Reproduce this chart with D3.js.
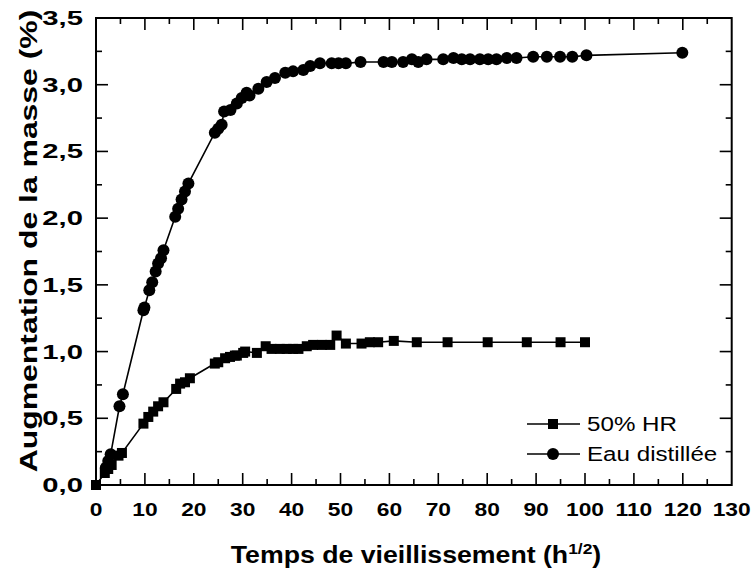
<!DOCTYPE html>
<html><head><meta charset="utf-8">
<script src="https://cdn.jsdelivr.net/npm/d3@7"></script>
<style>body{margin:0;background:#fff}svg{display:block}text{font-family:"Liberation Sans",Arial,sans-serif;fill:#000}</style>
</head><body>
<svg id="c" width="753" height="573"></svg>
<script>
const hrX = [0,1.8,2.5,3.2,4.6,5.3,9.7,10.7,11.7,12.7,13.8,16.4,17.2,18.2,19.2,24.3,25.0,26.4,27.4,28.4,28.8,30.1,30.5,32.9,34.7,35.9,37.6,39.0,40.3,41.4,43.1,44.4,46.2,47.9,49.2,51.1,54.3,56.0,57.7,60.9,65.6,71.9,80.1,88.1,95.0,100.0];
const hrY = [0,0.09,0.12,0.15,0.22,0.24,0.46,0.51,0.55,0.59,0.62,0.72,0.76,0.77,0.80,0.91,0.92,0.95,0.96,0.97,0.97,0.99,1.00,0.99,1.04,1.02,1.02,1.02,1.02,1.02,1.04,1.05,1.05,1.05,1.12,1.06,1.06,1.07,1.07,1.08,1.07,1.07,1.07,1.07,1.07,1.07];
const eauX = [2.0,2.5,3.0,4.8,5.5,9.7,9.9,10.9,11.5,12.2,12.7,13.3,13.8,16.2,16.8,17.5,18.2,18.9,24.3,25.0,25.7,26.2,27.5,28.8,29.8,30.8,31.4,33.2,34.9,36.6,38.7,40.3,42.4,43.8,45.8,48.2,49.6,51.1,54.1,58.8,60.5,62.8,64.6,65.9,67.6,71.0,73.1,74.8,76.5,78.5,80.2,81.9,84.0,86.0,89.4,92.2,94.9,97.4,100.3,119.9];
const eauY = [0.13,0.18,0.23,0.59,0.68,1.31,1.33,1.46,1.52,1.60,1.66,1.70,1.76,2.01,2.07,2.14,2.20,2.26,2.64,2.67,2.70,2.80,2.81,2.86,2.90,2.94,2.92,2.97,3.02,3.05,3.09,3.10,3.11,3.14,3.16,3.16,3.16,3.16,3.17,3.17,3.17,3.17,3.19,3.17,3.19,3.19,3.20,3.19,3.19,3.19,3.19,3.19,3.20,3.20,3.21,3.21,3.21,3.21,3.22,3.24];
const xTicks = [0,10,20,30,40,50,60,70,80,90,100,110,120,130];
const yTicks = [0,0.5,1.0,1.5,2.0,2.5,3.0,3.5];
const seriesNames = ["50% HR","Eau distillée"];
const xTitle = "Temps de vieillissement (h";
const xTitleSup = "1/2";
const yTitle = "Augmentation de la masse (%)";

const svg = d3.select("#c");
const L=96,R=731.7,T=18,B=485;
const x = d3.scaleLinear().domain([0,130]).range([L,R]);
const y = d3.scaleLinear().domain([0,3.5]).range([B,T]);
const fmt = d => d3.format(".1f")(d).replace(".",",");
const SX = 1.2;

// frame
svg.append("rect").attr("x",L).attr("y",T).attr("width",R-L).attr("height",B-T)
  .attr("fill","none").attr("stroke","#000").attr("stroke-width",2);

const minorX = d3.range(5,130,10);
const minorY = d3.range(0.25,3.5,0.5);
const tk = svg.append("g").attr("stroke","#000").attr("stroke-width",1.6);
xTicks.forEach(v=>{ if(v>0&&v<130){
  tk.append("line").attr("x1",x(v)).attr("x2",x(v)).attr("y1",B).attr("y2",B-12);
  tk.append("line").attr("x1",x(v)).attr("x2",x(v)).attr("y1",T).attr("y2",T+12);}});
minorX.forEach(v=>{
  tk.append("line").attr("x1",x(v)).attr("x2",x(v)).attr("y1",B).attr("y2",B-6);
  tk.append("line").attr("x1",x(v)).attr("x2",x(v)).attr("y1",T).attr("y2",T+6);});
yTicks.forEach(v=>{ if(v>0&&v<3.5){
  tk.append("line").attr("y1",y(v)).attr("y2",y(v)).attr("x1",L).attr("x2",L+12);
  tk.append("line").attr("y1",y(v)).attr("y2",y(v)).attr("x1",R).attr("x2",R-12);}});
minorY.forEach(v=>{
  tk.append("line").attr("y1",y(v)).attr("y2",y(v)).attr("x1",L).attr("x2",L+6);
  tk.append("line").attr("y1",y(v)).attr("y2",y(v)).attr("x1",R).attr("x2",R-6);});

// tick labels
svg.append("g").selectAll("text").data(xTicks).join("text")
  .attr("transform",d=>`translate(${x(d)},${B+31}) scale(${SX},1)`).attr("text-anchor","middle")
  .attr("font-size",19).attr("font-weight","bold").text(d=>d);
svg.append("g").selectAll("text").data(yTicks).join("text")
  .attr("transform",d=>`translate(${L-13},${y(d)+7}) scale(1.5,1)`).attr("text-anchor","end")
  .attr("font-size",19.5).attr("font-weight","bold").text(fmt);

// titles
const xt = svg.append("text").attr("transform","translate(416,563) scale(1.16,1)").attr("text-anchor","middle")
  .attr("font-size",23).attr("font-weight","bold");
xt.append("tspan").text(xTitle);
xt.append("tspan").attr("dy",-9).attr("font-size",15).text(xTitleSup);
xt.append("tspan").attr("dy",9).text(")");
svg.append("text").attr("transform",`translate(37,241) rotate(-90) scale(1.33,1)`)
  .attr("text-anchor","middle").attr("font-size",24).attr("font-weight","bold").text(yTitle);

// series
const line = d3.line().x(d=>x(d[0])).y(d=>y(d[1]));
const hr = hrX.map((v,i)=>[v,hrY[i]]);
const eau = eauX.map((v,i)=>[v,eauY[i]]);
svg.append("path").attr("d",line(hr)).attr("fill","none").attr("stroke","#000").attr("stroke-width",1.6);
svg.append("path").attr("d",line(eau)).attr("fill","none").attr("stroke","#000").attr("stroke-width",1.6);
const S=10;
svg.append("g").selectAll("rect").data(hr).join("rect")
  .attr("x",d=>x(d[0])-S/2).attr("y",d=>y(d[1])-S/2).attr("width",S).attr("height",S).attr("fill","#000");
svg.append("g").selectAll("circle").data(eau).join("circle")
  .attr("cx",d=>x(d[0])).attr("cy",d=>y(d[1])).attr("r",6).attr("fill","#000");

// legend
const lg = svg.append("g");
[0,1].forEach(i=>{
  const yy = 424 + i*30;
  lg.append("line").attr("x1",527).attr("x2",580).attr("y1",yy).attr("y2",yy).attr("stroke","#000").attr("stroke-width",1.6);
  if(i===0) lg.append("rect").attr("x",553-S/2).attr("y",yy-S/2).attr("width",S).attr("height",S).attr("fill","#000");
  else lg.append("circle").attr("cx",553).attr("cy",yy).attr("r",6).attr("fill","#000");
  lg.append("text").attr("transform",`translate(587,${yy+7}) scale(1.24,1)`).attr("font-size",19.5).text(seriesNames[i]);
});
</script>
</body></html>
